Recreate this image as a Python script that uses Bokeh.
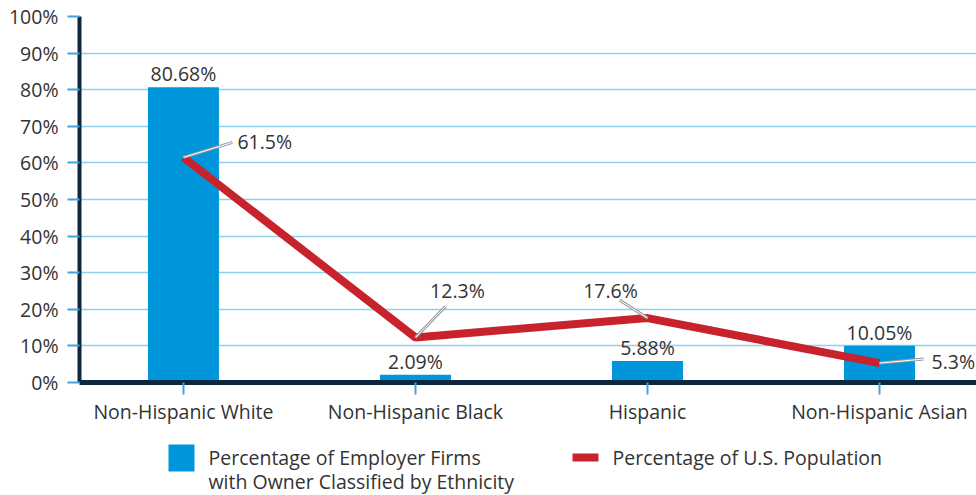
from bokeh.plotting import figure
from bokeh.layouts import column
from bokeh.models import Range1d, FixedTicker, ColumnDataSource
from bokeh.core.properties import value
from bokeh.embed import file_html
from bokeh.resources import INLINE

# ---- data ----
categories = ["Non-Hispanic White", "Non-Hispanic Black", "Hispanic", "Non-Hispanic Asian"]
firm_pct = [80.68, 2.09, 5.88, 10.05]
pop_pct = [61.5, 12.3, 17.6, 5.3]
firm_labels = ["80.68%", "2.09%", "5.88%", "10.05%"]
pop_labels = ["61.5%", "12.3%", "17.6%", "5.3%"]
y_ticks = [0, 10, 20, 30, 40, 50, 60, 70, 80, 90, 100]
y_tick_labels = ["0%", "10%", "20%", "30%", "40%", "50%", "60%", "70%", "80%", "90%", "100%"]
series_names = ["Percentage of Employer Firms", "with Owner Classified by Ethnicity",
                "Percentage of U.S. Population"]

# ---- style ----
FONT = "Open Sans"
FS = "19.5px"
TXT = "#333333"
BLUE = "#0096db"
RED = "#c8232c"
NAVY = "#0c2742"
GRID = "#8fd0f0"
TICK = "#3aa6de"

W = 976
LEFT, TOP, BOTTOM = 79, 16, 48
FRAME_H = 366
H1 = TOP + FRAME_H + BOTTOM
H2 = 495 - H1
X0, X1 = -0.448, 3.418
frame_w = W - LEFT
px_x = frame_w / (X1 - X0)
px_y = FRAME_H / 100.0

xs = list(range(len(categories)))

p = figure(width=W, height=H1, output_backend="svg", toolbar_location=None,
           x_range=Range1d(X0, X1), y_range=Range1d(0, 100),
           min_border_left=LEFT, min_border_top=TOP, min_border_bottom=BOTTOM,
           min_border_right=0)
p.outline_line_color = None
p.background_fill_color = "white"
p.border_fill_color = "white"

# grid
p.xgrid.visible = False
p.ygrid.ticker = FixedTicker(ticks=y_ticks)
p.ygrid.grid_line_color = GRID
p.ygrid.grid_line_width = 1.5

# y axis
p.yaxis.ticker = FixedTicker(ticks=y_ticks)
p.yaxis.major_label_overrides = {t: l for t, l in zip(y_ticks, y_tick_labels)}
p.yaxis.axis_line_color = NAVY
p.yaxis.axis_line_width = 4
p.yaxis.major_tick_line_color = TICK
p.yaxis.major_tick_line_width = 2
p.yaxis.major_tick_out = 12
p.yaxis.major_tick_in = 0
p.yaxis.minor_tick_line_color = None
p.yaxis.major_label_standoff = 9
p.yaxis.major_label_text_font = FONT
p.yaxis.major_label_text_font_size = FS
p.yaxis.major_label_text_color = TXT

# x axis
p.xaxis.ticker = FixedTicker(ticks=xs)
p.xaxis.major_label_overrides = {i: c for i, c in zip(xs, categories)}
p.xaxis.axis_line_color = NAVY
p.xaxis.axis_line_width = 5
p.xaxis.major_tick_line_color = TICK
p.xaxis.major_tick_line_width = 2
p.xaxis.major_tick_out = 12
p.xaxis.major_tick_in = 0
p.xaxis.minor_tick_line_color = None
p.xaxis.major_label_standoff = 3
p.xaxis.major_label_text_font = FONT
p.xaxis.major_label_text_font_size = FS
p.xaxis.major_label_text_color = TXT

# bars
bar_src = ColumnDataSource(dict(x=xs, top=firm_pct, lab=firm_labels))
p.vbar(x="x", top="top", width=0.306, source=bar_src,
       fill_color=BLUE, line_color=None)
p.text(x="x", y="top", text="lab", source=bar_src, text_align="center",
       text_baseline="bottom", y_offset=0, text_font=value(FONT),
       text_font_size=FS, text_color=TXT)

# line
p.line(xs, pop_pct, line_width=8, line_color=RED)

# leader lines + labels for line values (pixel offsets from each point)
lead_dx = [49, 30, -28, 44]
lead_dy = [15, 31, 18, 4]
lab_dx = [54, 42, -37, 52]
lab_dy = [-16, -47, -28, -2]
lab_align = ["left", "center", "center", "left"]
x_end = [x + dx / px_x for x, dx in zip(xs, lead_dx)]
y_end = [y + dy / px_y for y, dy in zip(pop_pct, lead_dy)]
p.segment(x0=xs, y0=pop_pct, x1=x_end, y1=y_end, line_color="#9a9a9a", line_width=3)
p.segment(x0=xs, y0=pop_pct, x1=x_end, y1=y_end, line_color="white", line_width=1)
lab_src = ColumnDataSource(dict(x=xs, y=pop_pct, lab=pop_labels, dx=lab_dx, dy=lab_dy, al=lab_align))
p.text(x="x", y="y", text="lab", source=lab_src, x_offset="dx", y_offset="dy",
       text_align="al", text_baseline="middle", text_font=value(FONT),
       text_font_size=FS, text_color=TXT)

# legend (separate strip; its frame is aligned with the chart frame, pixel coordinates)
lg = figure(width=W, height=H2, output_backend="svg", toolbar_location=None,
            x_range=Range1d(LEFT, W), y_range=Range1d(0, H2),
            min_border_left=LEFT, min_border_right=0, min_border_top=0,
            min_border_bottom=0, outline_line_color=None)
lg.axis.visible = False
lg.grid.visible = False
lg.background_fill_color = "white"
lg.border_fill_color = "white"
lg.quad(left=[168], right=[194], bottom=[H2 - 41], top=[H2 - 14],
        fill_color=BLUE, line_color=None)
lg.segment(x0=[572], x1=[598], y0=[H2 - 27], y1=[H2 - 27], line_color=RED, line_width=8)
lg.text(x=[208, 208, 612], y=[H2 - 27, H2 - 51, H2 - 27], text=series_names,
        text_baseline="middle", text_font=value(FONT), text_font_size=FS, text_color=TXT)

layout = column(p, lg, spacing=0)
open("out.html", "w").write(file_html(layout, INLINE))
